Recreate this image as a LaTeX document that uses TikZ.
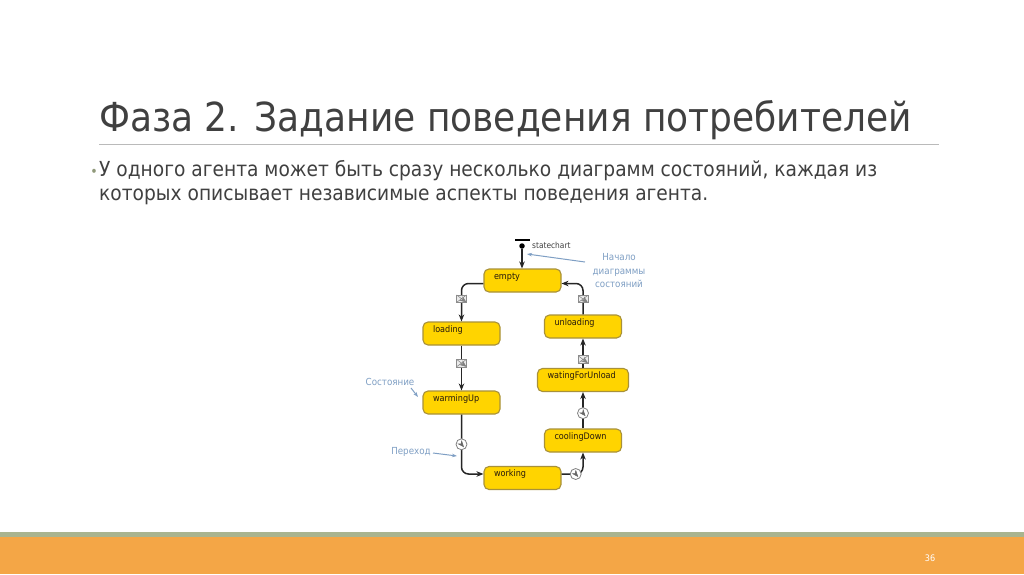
\documentclass[tikz,border=0pt]{standalone}
\usepackage{fontspec}
\setmainfont[FakeStretch=0.9]{DejaVu Sans}
\usetikzlibrary{arrows.meta, positioning, calc}

\definecolor{statefill}{HTML}{FFD400}
\definecolor{stateedge}{HTML}{A8913A}
\definecolor{notecolor}{HTML}{7F9FC4}
\definecolor{titlecolor}{HTML}{404040}
\definecolor{bandgreen}{HTML}{A9B48F}
\definecolor{bandorange}{HTML}{F4A646}

\tikzset{
  statebox/.style={draw=stateedge, fill=statefill, line width=1.1pt, rounded corners=5pt,
    inner ysep=0pt, inner xsep=10pt, text width=#1-20pt, minimum width=#1, align=left,
    text height=10pt, text depth=13pt, font=\fontsize{9}{10}\selectfont, text=black!80!brown},
  flow/.style={line width=1.5pt, black!85, rounded corners=7pt, -{Stealth[length=7pt,width=5.5pt]}},
  noteline/.style={line width=1pt, notecolor, -{Stealth[length=5pt,width=3.5pt]}},
  notetext/.style={text=notecolor, font=\fontsize{9.7}{13.5}\selectfont, align=center, inner sep=0pt},
  mailicon/.style={draw=black!45, fill=black!8, line width=0.6pt, minimum width=10pt, minimum height=7.5pt, inner sep=0pt,
    rounded corners=0pt,
    path picture={\draw[black!50, line width=0.5pt]
      (path picture bounding box.north west) -- (path picture bounding box.center) -- (path picture bounding box.north east)
      (path picture bounding box.south west) -- (path picture bounding box.center) -- (path picture bounding box.south east);}},
  clockicon/.style={circle, draw=black!50, fill=white, line width=0.8pt, minimum size=11pt, inner sep=0pt,
    rounded corners=0pt,
    path picture={\draw[black!60, line width=0.5pt]
      ($(path picture bounding box.center)+(0,3.5pt)$) -- (path picture bounding box.center) -- ++(2.5pt,-3pt);}}
}

\begin{document}
\begin{tikzpicture}[x=1pt, y=-1pt]
  \useasboundingbox (0,0) rectangle (1024,574);
  \fill[white] (0,0) rectangle (1024,574);

  \fill[bandgreen] (0,532) rectangle (1024,537);
  \fill[bandorange] (0,537) rectangle (1024,574);
  \node[text=white, font=\fontsize{9}{10}\selectfont, inner sep=0pt] (pagenum) at (930,558) {36};

  \node[anchor=base west, inner sep=0pt, text=titlecolor, font=\fontsize{40}{44}\selectfont] (title) at (99,131)
    {Фаза 2. Задание поведения потребителей};
  \draw[black!27, line width=0.8pt] (99,144) -- (939,144);

  \node[anchor=base, inner sep=0pt, text=bandgreen!85!black, font=\fontsize{14}{22}\selectfont] (bullet) at (94,176) {•};
  \node[anchor=north west, inner sep=0pt, text=titlecolor, align=left, font=\fontsize{20.7}{24}\selectfont] (body) at (99,160.5)
    {У одного агента может быть сразу несколько диаграмм состояний, каждая из\\
     которых описывает независимые аспекты поведения агента.};

  % states
  \node[statebox=77pt] (empty) at (522.5,280.5) {empty};
  \node[statebox=77pt] (loading) at (461.5,333.5) {loading};
  \node[statebox=77pt] (warmingUp) at (461.5,402.5) {warmingUp};
  \node[statebox=77pt] (working) at (522.5,478) {working};
  \node[statebox=77pt] (coolingDown) at (583,440.5) {coolingDown};
  \node[statebox=91pt] (watingForUnload) at (583,380) {watingForUnload};
  \node[statebox=77pt] (unloading) at (583,326.5) {unloading};

  % initial point
  \node[circle, fill=black, minimum size=5.5pt, inner sep=0pt] (startdot) at (522,246) {};
  \node[fill=black, minimum width=15pt, minimum height=1.5pt, inner sep=0pt] (startbar) at (522,240) {};
  \node[anchor=west, inner sep=0pt, text=black!75, font=\fontsize{8.3}{10}\selectfont] (chartname) at (532,245) {statechart};

  % transitions
  \draw[flow] (startdot) -- (startdot |- empty.north);
  \draw[flow] ([yshift=-3pt]empty.west) -| node[mailicon, pos=0.7] (mailA) {} (loading.north);
  \draw[flow] (loading.south) -- node[mailicon, pos=0.39] (mailB) {} (warmingUp.north);
  \draw[flow] (warmingUp.south) |- node[clockicon, pos=0.25] (clockA) {} ([yshift=4pt]working.west);
  \draw[flow] ([yshift=4pt]working.east) -| node[clockicon, pos=0.33] (clockB) {} (coolingDown.south);
  \draw[flow] (coolingDown.north) -- node[clockicon, pos=0.42] (clockC) {} (watingForUnload.south);
  \draw[flow] (watingForUnload.north) -- node[mailicon, pos=0.29] (mailC) {} (unloading.south);
  \draw[flow] (unloading.north) |- node[mailicon, pos=0.25] (mailD) {} ([yshift=-3pt]empty.east);

  % notes
  \node[notetext] (startnote) at (619,271) {Начало\\диаграммы\\состояний};
  \coordinate (startfrom) at (585,262);
  \coordinate (startto) at (527,254);
  \draw[noteline] (startfrom) -- (startto);
  \node[notetext] (statenote) at (390,382) {Состояние};
  \coordinate (statefrom) at (411,388);
  \coordinate (stateto) at (418,397);
  \draw[noteline] (statefrom) -- (stateto);
  \node[notetext] (flownote) at (411,452) {Переход};
  \coordinate (flowfrom) at (433,453);
  \coordinate (flowto) at (457,456);
  \draw[noteline] (flowfrom) -- (flowto);
\end{tikzpicture}
\end{document}
